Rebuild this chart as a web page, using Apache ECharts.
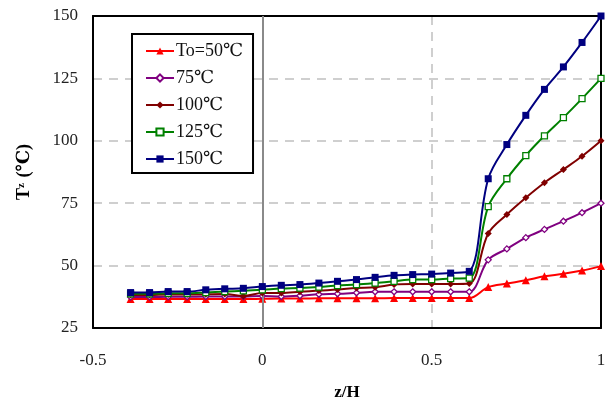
<!DOCTYPE html>
<html>
<head>
<meta charset="utf-8">
<script src="https://cdn.jsdelivr.net/npm/echarts@6/dist/echarts.min.js"></script>
<style>html,body{margin:0;padding:0;background:#fff}#c{width:610px;height:406px}</style>
</head>
<body>
<div id="c"></div>
<script>
const xs = [-0.389,-0.333,-0.278,-0.222,-0.167,-0.111,-0.056,0,0.056,0.111,0.167,0.222,0.278,0.333,0.389,0.444,0.5,0.556,0.611,0.667,0.722,0.778,0.833,0.889,0.944,1];
const seriesNames = ['To=50℃','75℃','100℃','125℃','150℃'];
const t50  = [36.6,36.6,36.6,36.6,36.6,36.6,36.6,36.7, 36.8,36.8,36.9,36.9,36.9,36.9,37.0,37.0,37.0,37.0,37.0, 41.4,42.8,44.1,45.7,46.7,48.0,49.8];
const t75  = [37.4,37.4,37.5,37.5,37.6,37.6,37.6,37.8, 37.6,37.9,38.5,38.7,39.1,39.5,39.5,39.5,39.5,39.5,39.5, 52.3,56.7,61.2,64.5,67.8,71.2,75.0];
const t100 = [38.2,38.2,38.4,38.4,38.5,38.6,37.8,39.0, 39.0,39.5,40.0,40.4,41.0,41.3,42.4,42.6,42.6,42.6,42.8, 62.9,70.5,77.2,83.2,88.5,93.8,100.0];
const t125 = [38.7,38.7,38.9,38.9,39.2,39.6,39.9,40.3, 40.8,41.0,41.4,42.0,42.4,43.0,43.7,44.4,44.4,44.8,45.0, 73.6,84.8,94.1,102.0,109.3,116.9,125.0];
const t150 = [39.2,39.2,39.6,39.6,40.3,40.7,40.9,41.6, 42.1,42.4,43.0,43.7,44.4,45.3,46.1,46.4,46.6,47.0,47.7, 84.8,98.5,110.2,120.6,129.6,139.4,150.0];
const xTicks = [-0.5, 0, 0.5, 1];
const yTicks = [25, 50, 75, 100, 125, 150];

const colors = ['#FF0000','#800080','#800000','#008000','#000080'];
const symbols = ['triangle','diamond','diamond','rect','rect'];
const hollow = [false,true,false,true,false];
const sizes = [8,6,7,6,7];
const vals = [t50,t75,t100,t125,t150];

const serif = '"Liberation Serif","DejaVu Serif",serif';

const series = vals.map((v,i)=>({
  name: seriesNames[i],
  type: 'line',
  smooth: 0.35,
  data: xs.map((x,j)=>[x,v[j]]),
  symbol: symbols[i],
  symbolSize: sizes[i],
  showAllSymbol: true,
  lineStyle: {color: colors[i], width: 2},
  itemStyle: hollow[i] ? {color:'#fff', borderColor: colors[i], borderWidth: 1.3} : {color: colors[i], borderColor: colors[i], borderWidth: 0},
  z: 3 + i
}));
series.push({
  type: 'line', data: [], silent: true,
  markLine: {silent: true, symbol: 'none', label:{show:false},
    lineStyle: {color:'#8a8a8a', type:'solid', width: 2},
    data: [{xAxis: 0}]},
  z: 1
});

const frameLine = {show: true, onZero: false, lineStyle: {color: '#000', width: 2}};
const chart = echarts.init(document.getElementById('c'));
chart.setOption({
  animation: false,
  backgroundColor: '#fff',
  grid: {left: 93, right: 9, top: 16, bottom: 75},
  legend: {
    orient: 'vertical', left: 132, top: 34,
    padding: [8, 10, 5, 13],
    itemGap: 9, itemWidth: 28, itemHeight: 9,
    backgroundColor: '#fff', borderColor: '#000', borderWidth: 2,
    textStyle: {fontFamily: serif, fontSize: 18, color: '#111', padding: [0,0,0,-3]},
    data: seriesNames
  },
  xAxis: [{
    type: 'value', min: -0.5, max: 1, interval: 0.5,
    axisLine: frameLine, axisTick: {show: false},
    axisLabel: {fontFamily: serif, fontSize: 17, color: '#222', margin: 24,
      formatter: v => xTicks.includes(v) ? String(v) : ''},
    splitLine: {show: true, lineStyle: {color: '#c0c0c0', type: [9,7], width: 1.5}},
    name: 'z/H', nameLocation: 'middle', nameGap: 56,
    nameTextStyle: {fontFamily: serif, fontSize: 17, fontWeight: 'bold', color: '#000'}
  }, {
    type: 'value', position: 'top', min: -0.5, max: 1, interval: 0.5,
    axisLine: frameLine, axisTick: {show: false}, axisLabel: {show: false}, splitLine: {show: false}
  }],
  yAxis: [{
    type: 'value', min: 25, max: 150, interval: 25,
    axisLine: frameLine, axisTick: {show: false},
    axisLabel: {fontFamily: serif, fontSize: 17, color: '#222', margin: 15,
      formatter: v => yTicks.includes(v) ? String(v) : ''},
    splitLine: {show: true, lineStyle: {color: '#c0c0c0', type: [9,7], width: 1.5}},
    name: '{a|T}{b|z}{a| (℃)}', nameLocation: 'middle', nameGap: 60,
    nameTextStyle: {fontFamily: serif, fontSize: 18, fontWeight: 'bold', color: '#000',
      rich: {a: {fontFamily: serif, fontSize: 18, fontWeight: 'bold', color:'#000'},
             b: {fontFamily: serif, fontSize: 11, fontWeight: 'bold', color:'#000', padding:[0,1,6,0]}}}
  }, {
    type: 'value', position: 'right', min: 25, max: 150, interval: 25,
    axisLine: frameLine, axisTick: {show: false}, axisLabel: {show: false}, splitLine: {show: false}
  }],
  series: series
});
</script>
</body>
</html>
